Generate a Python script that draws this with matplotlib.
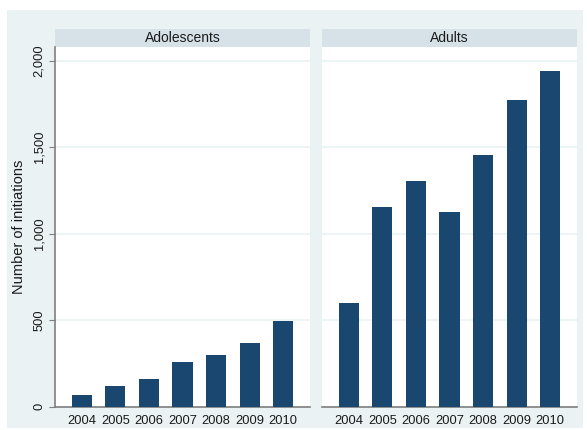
import matplotlib
matplotlib.use("Agg")
import matplotlib.pyplot as plt
from matplotlib.patches import Rectangle
import numpy as np

plt.rcParams['font.family'] = ['Liberation Sans', 'DejaVu Sans']

years = ['2004', '2005', '2006', '2007', '2008', '2009', '2010']
adolescents = [64, 116, 162, 260, 300, 370, 495]
adults = [601, 1156, 1306, 1127, 1457, 1775, 1942]
panels = ['Adolescents', 'Adults']
yticks = [0, 500, 1000, 1500, 2000]
ytick_labels = ['0', '500', '1,000', '1,500', '2,000']

bar_color = '#1a476f'
bg_color = '#eaf2f3'
strip_color = '#d6e1e8'
grid_color = '#eaf2f3'
axis_color = '#7f7f7f'
text_color = '#1a1a1a'

W, H = 587, 430
fig = plt.figure(figsize=(W / 100, H / 100), dpi=100)
fig.patch.set_facecolor('white')
fig.patches.append(Rectangle((7 / W, 2 / H), 576 / W, 418 / H,
                             transform=fig.transFigure, facecolor=bg_color,
                             edgecolor='none', zorder=-10))

def px_axes(x0, x1, y0, y1):
    return fig.add_axes([x0 / W, 1 - y1 / H, (x1 - x0) / W, (y1 - y0) / H])

ax1 = px_axes(55, 310, 47, 406.5)
ax2 = px_axes(322, 577, 47, 406.5)

x = np.arange(len(years))
for ax, vals, name in [(ax1, adolescents, panels[0]), (ax2, adults, panels[1])]:
    ax.set_facecolor('white')
    ax.bar(x, vals, width=0.6, color=bar_color, zorder=3)
    ax.set_xlim(-0.8, 6.8)
    ax.set_ylim(0, 2080)
    ax.set_yticks(yticks)
    ax.set_xticks(x)
    ax.set_xticklabels(years, fontsize=9.3, color=text_color)
    ax.tick_params(axis='x', length=0, pad=6)
    ax.grid(axis='y', color=grid_color, linewidth=1.2, zorder=0)
    for s in ['top', 'right']:
        ax.spines[s].set_visible(False)
    ax.spines['bottom'].set_color(axis_color)
    ax.spines['bottom'].set_linewidth(1.2)
    # panel header strip
    ax.add_patch(Rectangle((0, 1.0), 1, 18.5 / 359.5, transform=ax.transAxes,
                           facecolor=strip_color, edgecolor='none',
                           clip_on=False, zorder=1))
    ax.text(0.5, 1 + 9.5 / 359.5, name, transform=ax.transAxes,
            ha='center', va='center', fontsize=10, color=text_color)

ax1.set_yticklabels(ytick_labels, rotation=90, va='center', fontsize=9.3,
                    color=text_color)
ax1.tick_params(axis='y', length=4, color=axis_color, pad=3)
ax1.spines['left'].set_color(axis_color)
ax1.spines['left'].set_linewidth(1.2)
ax1.set_ylabel('Number of initiations', fontsize=10.5, color=text_color,
               labelpad=5)

ax2.spines['left'].set_visible(False)
ax2.tick_params(axis='y', length=0, labelleft=False)

fig.savefig('out.png', dpi=100)
